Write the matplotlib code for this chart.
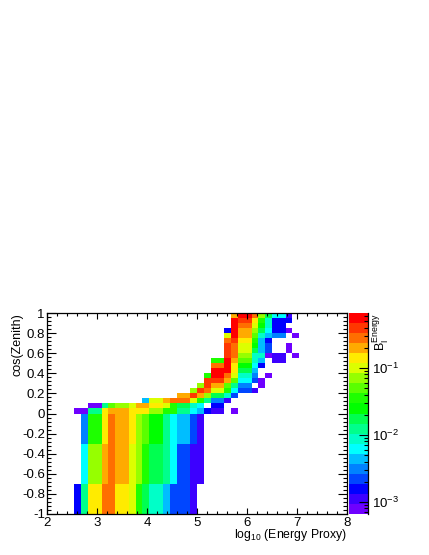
import matplotlib
matplotlib.use('Agg')
import matplotlib.pyplot as plt
import numpy as np
from matplotlib.colors import ListedColormap, LogNorm
from matplotlib.ticker import FixedLocator, NullFormatter

plt.rcParams['font.family'] = ['Liberation Sans', 'DejaVu Sans']
plt.rcParams['mathtext.fontset'] = 'custom'
plt.rcParams['mathtext.rm'] = 'Liberation Sans'
plt.rcParams['mathtext.default'] = 'rm'
plt.rcParams['axes.unicode_minus'] = False

# palette bins of the z axis, purple to red
palette = [(110, 0, 255), (60, 0, 255), (0, 0, 255), (0, 70, 255), (0, 130, 255),
           (0, 190, 255), (0, 255, 255), (0, 255, 200), (0, 255, 140), (0, 255, 80),
           (0, 255, 0), (30, 255, 0), (90, 255, 0), (150, 255, 0), (220, 255, 0),
           (255, 235, 0), (255, 170, 0), (255, 110, 0), (255, 55, 0), (255, 0, 0)]

nx = 44
ny = 40
x_edges = np.linspace(2, 8, nx + 1)
y_edges = np.linspace(-1, 1, ny + 1)
log_zmin = -3.18
log_zmax = -0.18

# each entry: first row, last row, first column, palette bin per column (-1 = empty)
band_low = [0, 5, 4, [2, 8, 15, 15, 17, 17, 15, 15, 14, 11, 9, 7, 7, 5, 3, 3, 3, 1]]
band_mid = [6, 13, 5, [6, 13, 13, 16, 17, 16, 16, 14, 13, 11, 9, 9, 8, 6, 3, 3, 1, 1]]
band_top = [14, 19, 5, [4, 11, 11, 15, 17, 16, 16, 15, 13, 12, 10, 10, 8, 6, 5, 5, 3, 1]]

row_20 = [20, 20, 4, [0, 0, 8, 8, 15, 16, 16, 16, 15, 15, 15, 13, 13, 11, 11, 8, 8, 6, 5, 2, 1, 1, -1, 0]]
row_21 = [21, 21, 6, [0, 0, 8, 12, 13, 13, 14, 16, 16, 15, 15, 14, 11, 9, 9, 7, 6, -1, 2, 2]]
row_22 = [22, 22, 14, [5, 14, 14, 16, 17, 17, 17, 14, 11, 8, 4, 4, 1]]
row_23 = [23, 23, 19, [16, 16, 18, 16, 13, 9, 9, 7, 3]]
row_24 = [24, 24, 21, [13, 18, 17, 14, 14, 11, 6, 3, 3, 1]]
row_25 = [25, 25, 22, [13, 18, 16, 16, 12, 8, 4, 4, -1, 0]]
row_26 = [26, 26, 23, [18, 18, 18, 16, 12, 6, 6, 3, 0]]
row_27 = [27, 27, 23, [11, 19, 19, 17, 14, 7, 7, 4, -1, 0]]
row_28 = [28, 28, 24, [19, 19, 19, 15, 9, 9, 5]]
row_29 = [29, 29, 24, [17, 17, 19, 15, 10, 10, 6, 2]]
row_30 = [30, 30, 24, [11, 11, 19, 16, 12, 12, 7, 5, -1, 1, 1]]
row_31 = [31, 31, 26, [18, 17, 13, 13, 7, 7, 0, 1, 1, -1, 0]]
row_32 = [32, 32, 26, [18, 17, 14, 14, 9, 5, 3, -1, -1, 0]]
row_33 = [33, 33, 26, [18, 17, 14, 14, 10, 5, 3, -1, -1, 0]]
row_34 = [34, 34, 26, [17, 18, 15, 15, 11, 5, 2]]
row_35 = [35, 35, 26, [14, 19, 16, 16, 12, 7, 5, 4, 4, -1, 0]]
row_36 = [36, 36, 26, [2, 19, 16, 16, 13, 9, 6, 2, 2, 0]]
row_37 = [37, 37, 27, [19, 17, 17, 14, 10, 7, 2, 2]]
row_38 = [38, 38, 27, [19, 18, 18, 15, 11, 7, 2, 2, 2]]
row_39 = [39, 39, 27, [16, 19, 19, 17, 13, 9, 6, 6, 1]]

all_rows = [band_low, band_mid, band_top, row_20, row_21, row_22, row_23, row_24,
            row_25, row_26, row_27, row_28, row_29, row_30, row_31, row_32, row_33,
            row_34, row_35, row_36, row_37, row_38, row_39]

z = np.full((ny, nx), np.nan)
step = (log_zmax - log_zmin) / len(palette)
for r0, r1, c0, bins in all_rows:
    for i, b in enumerate(bins):
        if b >= 0:
            z[r0:r1 + 1, c0 + i] = 10 ** (log_zmin + (b + 0.5) * step)

W, H = 429, 555
fig = plt.figure(figsize=(W / 100, H / 100), dpi=100)
ax = fig.add_axes([47 / W, 1 - 514 / H, 300 / W, 201 / H])
cax = fig.add_axes([349 / W, 1 - 514 / H, 19 / W, 201 / H])

cmap = ListedColormap(np.array(palette) / 255)
norm = LogNorm(vmin=10 ** log_zmin, vmax=10 ** log_zmax)
mesh = ax.pcolormesh(x_edges, y_edges, np.ma.masked_invalid(z), cmap=cmap, norm=norm,
                     linewidth=0, antialiased=False)

ax.set_xlim(2, 8)
ax.set_ylim(-1, 1)
ax.set_xticks(np.arange(2, 9))
ax.set_xticklabels(['2', '3', '4', '5', '6', '7', '8'], fontsize=9.5)
ax.set_yticks(np.arange(-1, 1.01, 0.2))
ax.set_yticklabels(['-1', '-0.8', '-0.6', '-0.4', '-0.2', '0', '0.2', '0.4', '0.6', '0.8', '1'],
                   fontsize=9.5)
ax.xaxis.set_minor_locator(FixedLocator(np.arange(2, 8.01, 0.2)))
ax.yaxis.set_minor_locator(FixedLocator(np.arange(-1, 1.001, 0.04)))
ax.tick_params(axis='x', which='major', direction='in', top=True, length=4.3, width=0.8, pad=2)
ax.tick_params(axis='x', which='minor', direction='in', top=True, length=2.1, width=0.8)
ax.tick_params(axis='y', which='major', direction='in', right=True, length=6.5, width=0.8, pad=1.5)
ax.tick_params(axis='y', which='minor', direction='in', right=True, length=3.2, width=0.8)
for s in ax.spines.values():
    s.set_linewidth(0.9)

fig.text(347 / W, 1 - 535 / H, r'log$_{10}$ (Energy Proxy)', ha='right', va='center', fontsize=8.8)
fig.text(17 / W, 1 - 313 / H, 'cos(Zenith)', rotation=90, ha='center', va='top', fontsize=9)

cb = fig.colorbar(mesh, cax=cax)
cb.outline.set_visible(False)
cax.spines['right'].set_visible(True)
cax.spines['right'].set_linewidth(0.9)
cax.set_yticks([1e-3, 1e-2, 1e-1])
cax.set_yticklabels(['$10^{-3}$', '$10^{-2}$', '$10^{-1}$'], fontsize=9.5)
minor_z = [m * 10.0 ** e for e in (-4, -3, -2, -1) for m in range(2, 10)]
cax.yaxis.set_minor_locator(FixedLocator([v for v in minor_z if 10 ** log_zmin < v < 10 ** log_zmax]))
cax.yaxis.set_minor_formatter(NullFormatter())
cax.tick_params(axis='y', which='major', direction='in', right=True, left=False, length=6.5, width=0.8, pad=3)
cax.tick_params(axis='y', which='minor', direction='in', right=True, left=False, length=3.2, width=0.8)

fig.text(381 / W, 1 - 313 / H, r'$\mathregular{B_{I}^{Energy}}$', rotation=90, ha='center', va='top', fontsize=9)

fig.savefig('out.png', dpi=100)
